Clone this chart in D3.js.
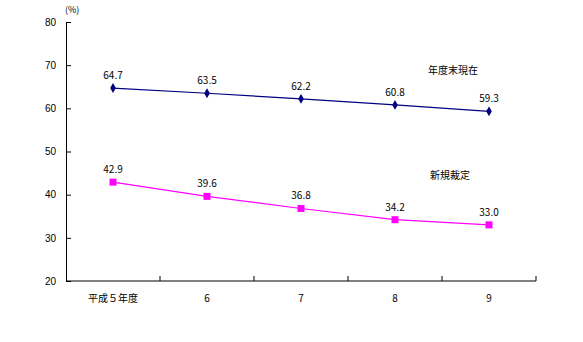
<!DOCTYPE html>
<html>
<head>
<meta charset="utf-8">
<script src="https://cdn.jsdelivr.net/npm/d3@7"></script>
<style>
  body { margin: 0; background: #fff; }
  svg { font-family: "Noto Sans CJK JP", sans-serif; }
  .axis path, .axis line { stroke: #000; }
  .axis text { font-size: 10px; fill: #000; }
</style>
</head>
<body>
<svg id="chart" width="583" height="342"></svg>
<script>
const categories = ["平成５年度", "6", "7", "8", "9"];
const endOfYear = [64.7, 63.5, 62.2, 60.8, 59.3];   // 年度末現在
const newAwards = [42.9, 39.6, 36.8, 34.2, 33.0];   // 新規裁定
const yTicks = [20, 30, 40, 50, 60, 70, 80];

const svg = d3.select("#chart");
const plotL = 66, plotR = 536, plotT = 22, plotB = 281;

const x = d3.scaleBand().domain(categories).range([plotL, plotR]);
const y = d3.scaleLinear().domain([20, 80]).range([plotB, plotT]);

// x axis with ticks between categories
const xAxis = svg.append("g").attr("class", "axis")
  .attr("transform", `translate(0,${plotB})`);
xAxis.append("line").attr("x1", plotL).attr("x2", plotR).attr("stroke", "#000");
const bounds = categories.map(c => x(c)).concat([plotR]);
xAxis.selectAll(".tk").data(bounds.slice(1)).enter().append("line")
  .attr("x1", d => d).attr("x2", d => d).attr("y1", 0).attr("y2", -5)
  .attr("stroke", "#000");
xAxis.selectAll("text").data(categories).enter().append("text")
  .attr("x", d => x(d) + x.bandwidth() / 2)
  .attr("y", 21)
  .attr("text-anchor", "middle")
  .text(d => d);

// y axis
svg.append("g").attr("class", "axis")
  .attr("transform", `translate(${plotL},0)`)
  .call(d3.axisLeft(y).tickValues(yTicks).tickSize(5).tickSizeOuter(0).tickPadding(4))
  .call(g => g.selectAll(".tick line").attr("x2", 5).attr("x1", 0));
svg.selectAll(".axis .tick text").attr("x", -10);

svg.append("text").attr("x", 65).attr("y", 13).attr("font-size", 9).text("(%)");

const cx = d => x(d) + x.bandwidth() / 2;
const line = d3.line().x((d, i) => cx(categories[i])).y(d => y(d));

// 年度末現在
svg.append("path").datum(endOfYear).attr("d", line)
  .attr("fill", "none").attr("stroke", "#000080").attr("stroke-width", 1.2);
svg.selectAll(".dia").data(endOfYear).enter().append("path")
  .attr("d", d3.symbol(d3.symbolDiamond, 28))
  .attr("transform", (d, i) => `translate(${cx(categories[i])},${y(d)})`)
  .attr("fill", "#000080");

// 新規裁定
svg.append("path").datum(newAwards).attr("d", line)
  .attr("fill", "none").attr("stroke", "#ff00ff").attr("stroke-width", 1.2);
svg.selectAll(".sq").data(newAwards).enter().append("rect")
  .attr("x", (d, i) => cx(categories[i]) - 3.5)
  .attr("y", d => y(d) - 3.5)
  .attr("width", 7).attr("height", 7)
  .attr("fill", "#ff00ff");

// value labels
[endOfYear, newAwards].forEach(series => {
  svg.selectAll(null).data(series).enter().append("text")
    .attr("x", (d, i) => cx(categories[i]))
    .attr("y", d => y(d) - 9)
    .attr("text-anchor", "middle")
    .attr("font-size", 10)
    .text(d => d.toFixed(1));
});

// series names
svg.append("text").attr("x", 453).attr("y", 74).attr("text-anchor", "middle")
  .attr("font-size", 10).text("年度末現在");
svg.append("text").attr("x", 450).attr("y", 179).attr("text-anchor", "middle")
  .attr("font-size", 10).text("新規裁定");
</script>
</body>
</html>
